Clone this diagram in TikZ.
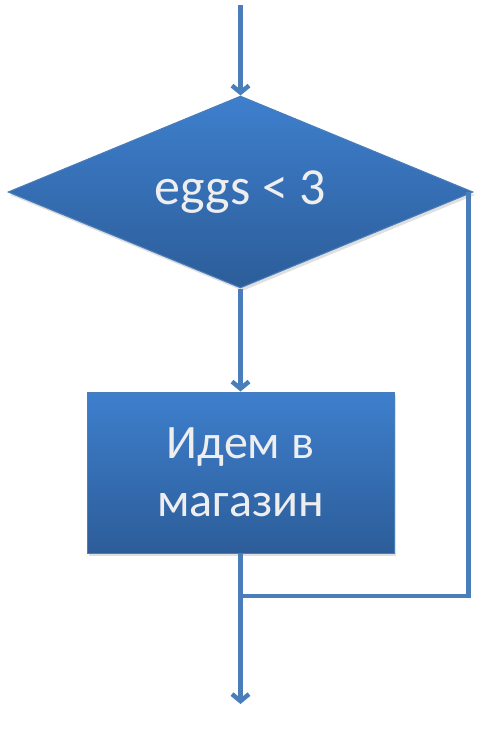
\documentclass[tikz,border=0pt]{standalone}
\usepackage{fontspec}
\setmainfont{Carlito}
\usepackage{xcolor}
\usepackage{tikz}
\usetikzlibrary{arrows.meta,shapes.geometric,shadows}

\definecolor{boxtop}{RGB}{62,127,205}
\definecolor{boxbot}{RGB}{44,93,153}
\definecolor{boxline}{RGB}{74,126,187}
\definecolor{boxtext}{RGB}{238,238,238}

\tikzset{
  flow/.style={draw=boxline, line width=1pt, top color=boxtop, bottom color=boxbot,
    text=boxtext, inner sep=0pt, font=\fontsize{48}{58}\selectfont,
    drop shadow={opacity=0.25, shadow xshift=2pt, shadow yshift=-3pt}},
  condbox/.style={flow, diamond, aspect=2.42, minimum width=465pt, minimum height=192pt,
    font=\fontsize{52}{60}\selectfont},
  shopbox/.style={flow, rectangle, minimum width=307pt, minimum height=161pt, align=center},
  link/.style={draw=boxline, line width=4.5pt}
}

\begin{document}
\begin{tikzpicture}[x=1pt, y=-1pt, >={Straight Barb[length=7pt,width=17pt]}]
  \useasboundingbox (0,0) rectangle (482,734);
  % blocks
  \node[condbox] (cond) at (240.5,192) {eggs < 3};
  \node[shopbox] (shop) at (240.5,472.5) {Идем в\\магазин};
  % free ends of the connectors
  \coordinate (start) at (240.5,5);
  \coordinate (join) at (240.5,596);
  \coordinate (finish) at (240.5,704);
  % connectors
  \draw[link,->] (start) -- (cond.north);
  \draw[link,->] (cond.south) -- (shop.north);
  \draw[link] ([xshift=-5pt]cond.east) |- (join);
  \draw[link,->] (shop.south) -- (finish);
\end{tikzpicture}
\end{document}
